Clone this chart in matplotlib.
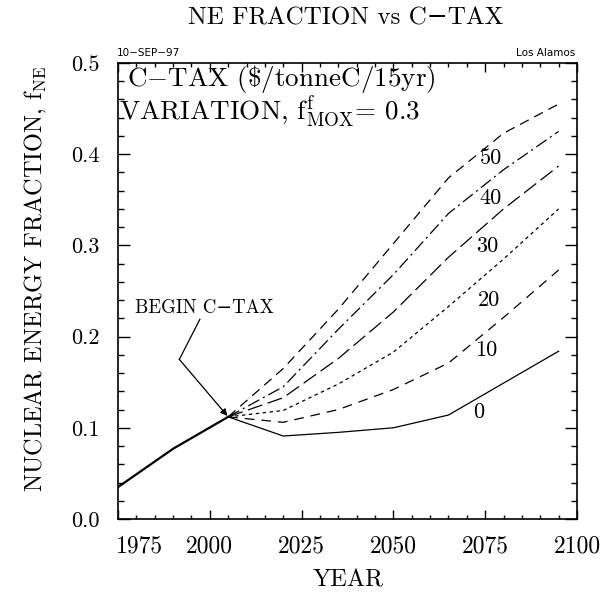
import numpy as np
import matplotlib
matplotlib.use('Agg')
import matplotlib.pyplot as plt
from matplotlib.transforms import ScaledTranslation

plt.rcParams['font.family'] = ['cmr10', 'DejaVu Serif']
plt.rcParams['mathtext.fontset'] = 'cm'
plt.rcParams['lines.scale_dashes'] = False
plt.rcParams['axes.unicode_minus'] = False

# historical nuclear energy fraction
hist_years = [1975, 1990, 2005]
hist_f = [0.035, 0.077, 0.112]

# carbon tax scenarios ($/tonneC/15yr)
years = [2005, 2020, 2035, 2050, 2065, 2080, 2095]
tax0 = [0.112, 0.091, 0.095, 0.100, 0.114, 0.149, 0.184]
tax10 = [0.112, 0.106, 0.120, 0.142, 0.171, 0.221, 0.273]
tax20 = [0.112, 0.119, 0.148, 0.183, 0.233, 0.285, 0.340]
tax30 = [0.112, 0.133, 0.176, 0.227, 0.287, 0.340, 0.387]
tax40 = [0.112, 0.145, 0.208, 0.268, 0.335, 0.383, 0.425]
tax50 = [0.112, 0.165, 0.230, 0.302, 0.374, 0.423, 0.455]

tax_labels = ['0', '10', '20', '30', '40', '50']
label_x = [2073.3, 2075.2, 2075.9, 2075.6, 2076.5, 2076.5]
label_y = [0.117, 0.185, 0.240, 0.299, 0.352, 0.396]

x_ticks = [1975, 2000, 2025, 2050, 2075, 2100]
y_ticks = [0.0, 0.1, 0.2, 0.3, 0.4, 0.5]


fig = plt.figure(figsize=(6, 5.98), dpi=100)
ax = fig.add_axes([118/600, 79/598, 459/600, 456/598])

ax.plot(hist_years, hist_f, color='k', lw=1.6)

series = [tax0, tax10, tax20, tax30, tax40, tax50]
dashes = [None, (7, 5), (2.5, 2.5), (11, 4), (9, 3, 1.5, 3), (7, 4.5)]
for s, d in zip(series, dashes):
    if d is None:
        ax.plot(years, s, color='k', lw=0.9)
    else:
        ax.plot(years, s, color='k', lw=0.9, dashes=d)

for lab, lx, ly in zip(tax_labels, label_x, label_y):
    ax.text(lx, ly, lab, fontsize=16, ha='center', va='center')

# begin c-tax pointer
ax.plot([1997.3, 1991.7], [0.219, 0.175], color='k', lw=0.9)
ax.annotate('', xy=(2004.8, 0.113), xytext=(1991.7, 0.175),
            arrowprops=dict(arrowstyle='-|>', color='k', lw=0.9,
                            mutation_scale=10, shrinkA=0, shrinkB=0))
ax.text(1979.6, 0.231, 'BEGIN C\u2212TAX', fontsize=13.5, ha='left', va='center')

ax.text(1977.5, 0.483, r'C$-$TAX (\$/tonneC/15yr)', fontsize=19.5, ha='left', va='center')
ax.text(1975.3, 0.447, r'VARIATION, $\mathrm{f^{f}_{MOX}}$= 0.3', fontsize=19.5,
        ha='left', va='center')

ax.set_xlim(1975, 2100)
ax.set_ylim(0, 0.5)
ax.set_xticks(x_ticks)
ax.set_xticklabels([str(x) for x in x_ticks])
ax.set_xticks(np.arange(1975, 2101, 5), minor=True)
ax.set_yticks(y_ticks)
ax.set_yticklabels(['%.1f' % y for y in y_ticks])
ax.set_yticks(np.arange(0, 0.501, 0.02), minor=True)

ax.tick_params(axis='both', which='both', direction='in', top=True, right=True,
               width=1.0)
ax.tick_params(axis='x', which='major', length=6.5, pad=12, labelsize=17)
ax.tick_params(axis='x', which='minor', length=3.2)
ax.tick_params(axis='y', which='major', length=8.6, pad=13, labelsize=16)
ax.tick_params(axis='y', which='minor', length=4.3)
for sp in ax.spines.values():
    sp.set_linewidth(1.2)

# first year label sits shifted right in the original
lbl = ax.get_xticklabels()[0]
lbl.set_transform(lbl.get_transform() + ScaledTranslation(22/100, 0, fig.dpi_scale_trans))

fig.text(346/600, 1 - 18/598, 'NE FRACTION vs C\u2212TAX', fontsize=18,
         ha='center', va='center')
fig.text(348/600, 1 - 580/598, 'YEAR', fontsize=17.5, ha='center', va='center')
fig.text(36/600, 1 - 279/598, r'NUCLEAR ENERGY FRACTION, $\mathrm{f_{NE}}$',
         fontsize=17.5, ha='center', va='center', rotation=90)
fig.text(117/600, 1 - 53/598, '10\u2212SEP\u221297', fontsize=7.5,
         family='DejaVu Sans', ha='left', va='center')
fig.text(575/600, 1 - 53/598, 'Los Alamos', fontsize=7.5,
         family='DejaVu Sans', ha='right', va='center')

fig.savefig('out.png', dpi=100)
